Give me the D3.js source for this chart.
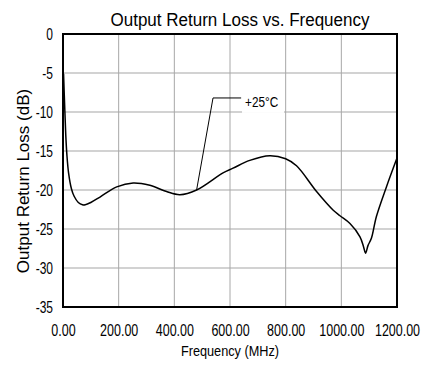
<!DOCTYPE html>
<html>
<head>
<meta charset="utf-8">
<script src="https://cdn.jsdelivr.net/npm/d3@7"></script>
<style>
  body { margin: 0; background: #fff; }
  text { font-family: "Liberation Sans", Arial, sans-serif; fill: #000; }
</style>
</head>
<body>
<svg width="429" height="365"></svg>
<script>
// Data
const freq = [2, 4, 7, 10, 14, 20, 30, 40, 55, 70, 80, 100, 133, 193, 252, 312, 372, 420, 480,
              575, 611, 671, 743, 800, 839, 911, 971, 995, 1031, 1067, 1080, 1087, 1096, 1108, 1126, 1162, 1200];
const loss = [-5.1, -7.2, -10.2, -13, -15.5, -17.8, -19.8, -20.8, -21.6, -21.9, -21.9, -21.6, -20.9, -19.6, -19.1, -19.4, -20.2, -20.6, -20.0,
              -17.8, -17.2, -16.2, -15.6, -16.0, -16.9, -20.2, -22.6, -23.3, -24.3, -26.0, -27.3, -28.1, -27.1, -26.2, -23.4, -19.6, -15.9];
const xTicks = [0, 200, 400, 600, 800, 1000, 1200];
const yTicks = [0, -5, -10, -15, -20, -25, -30, -35];

// annotation: anchor on curve, elbow, end of leader, label
const leader = [[480, -20.0], [539, -8.2], [640, -8.2]];
const labelPos = [654, -9.35];
const labelText = "+25°C";

const svg = d3.select("svg");
const margin = {left: 63, right: 32, top: 34, bottom: 58};
const W = 429, H = 365;

const x = d3.scaleLinear().domain([0, 1200]).range([margin.left, W - margin.right]);
const y = d3.scaleLinear().domain([-35, 0]).range([H - margin.bottom, margin.top]);

// squeeze text horizontally (the original uses a narrow face)
function narrow(sel, k) {
  sel.each(function() {
    const len = this.getComputedTextLength();
    d3.select(this).attr("textLength", len * k).attr("lengthAdjust", "spacingAndGlyphs");
  });
}

// grid
svg.append("g")
  .selectAll("line")
  .data(yTicks)
  .join("line")
    .attr("x1", x(0)).attr("x2", x(1200))
    .attr("y1", d => y(d)).attr("y2", d => y(d))
    .style("stroke", "#d2d2d2")
    .style("stroke-width", 2)

svg.append("g")
  .selectAll("line")
  .data(xTicks)
  .join("line")
    .attr("x1", d => x(d)).attr("x2", d => x(d))
    .attr("y1", y(0)).attr("y2", y(-35))
    .style("stroke", "#a8a8a8")
    .style("stroke-width", 1)

// white box behind the label
svg.append("rect")
  .attr("x", x(labelPos[0]) - 3)
  .attr("y", y(labelPos[1]) - 14)
  .attr("width", 42)
  .attr("height", 20)
  .attr("fill", "#fff")

// frame
svg.append("rect")
  .attr("x", x(0)).attr("y", y(0))
  .attr("width", x(1200) - x(0))
  .attr("height", y(-35) - y(0))
  .attr("fill", "none")
  .style("stroke", "#000")
  .style("stroke-width", 2)

// axes (labels only)
const xAxis = svg.append("g")
  .attr("transform", `translate(0,${y(-35)})`)
  .call(d3.axisBottom(x).tickValues(xTicks).tickSize(0).tickPadding(18).tickFormat(d3.format(".2f")))
xAxis.select(".domain").remove()
xAxis.selectAll("text").attr("font-size", 16).attr("font-family", null).call(narrow, 0.78)

const yAxis = svg.append("g")
  .attr("transform", `translate(${x(0)},0)`)
  .call(d3.axisLeft(y).tickValues(yTicks).tickSize(0).tickPadding(10).tickFormat(d => d3.format("d")(d).replace("−", "-")))
yAxis.select(".domain").remove()
yAxis.selectAll("text").attr("font-size", 16).attr("font-family", null).call(narrow, 0.75)

// curve
const pts = freq.map((f, i) => [f, loss[i]]);
svg.append("path")
  .datum(pts)
  .attr("fill", "none")
  .attr("stroke", "#000")
  .attr("stroke-width", 1.5)
  .attr("d", d3.line().x(d => x(d[0])).y(d => y(d[1])).curve(d3.curveCatmullRom.alpha(0.5)))

// leader line + label
svg.append("path")
  .datum(leader)
  .attr("fill", "none")
  .attr("stroke", "#000")
  .attr("stroke-width", 1)
  .attr("d", d3.line().x(d => x(d[0])).y(d => y(d[1])))

svg.append("text")
  .attr("x", x(labelPos[0]))
  .attr("y", y(labelPos[1]))
  .attr("font-size", 14)
  .text(labelText)
  .call(narrow, 0.84)

// titles
svg.append("text")
  .attr("x", 240).attr("y", 26)
  .attr("text-anchor", "middle")
  .attr("font-size", 18.7)
  .text("Output Return Loss vs. Frequency")
  .call(narrow, 0.91)

svg.append("text")
  .attr("x", (x(0) + x(1200)) / 2).attr("y", 356)
  .attr("text-anchor", "middle")
  .attr("font-size", 15.5)
  .text("Frequency (MHz)")
  .call(narrow, 0.82)

svg.append("text")
  .attr("transform", `translate(29,181) rotate(-90)`)
  .attr("text-anchor", "middle")
  .attr("font-size", 17)
  .text("Output Return Loss (dB)")
</script>
</body>
</html>
